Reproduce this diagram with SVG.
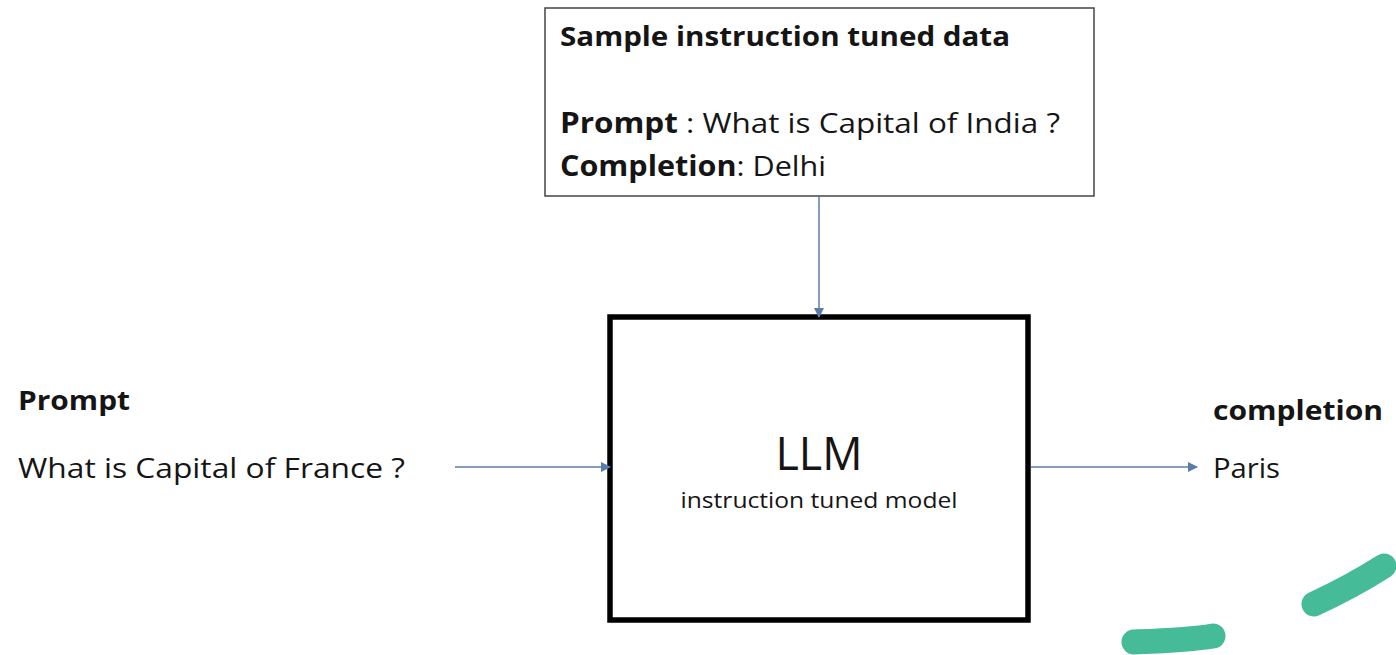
<svg xmlns="http://www.w3.org/2000/svg" width="1396" height="655" viewBox="0 0 1396 655">
  <style>
    .t { font-family: "Open Sans", "Noto Sans", "Liberation Sans", sans-serif; fill: #151515; }
    .b { font-weight: bold; }
    .conn { stroke: #5a7cab; stroke-width: 1.5; fill: none; }
    .swoosh { stroke: #45bb97; stroke-width: 25; stroke-linecap: round; fill: none; }
  </style>
  <defs>
    <marker id="arrow" viewBox="0 0 10 10" refX="9" refY="5" markerWidth="11" markerHeight="10" markerUnits="userSpaceOnUse" orient="auto">
      <path d="M0,0 L10,5 L0,10 z" fill="#5a7cab"/>
    </marker>
  </defs>
  <rect width="1396" height="655" fill="#ffffff"/>

  <!-- training sample box -->
  <g id="sample-data">
    <rect x="545" y="8" width="549" height="188" fill="#ffffff" stroke="#444444" stroke-width="1.5"/>
    <text class="t b" x="560" y="46" font-size="26" textLength="450" lengthAdjust="spacingAndGlyphs">Sample instruction tuned data</text>
    <text class="t" x="560" y="133" font-size="28" textLength="500" lengthAdjust="spacingAndGlyphs"><tspan class="b">Prompt</tspan> : What is Capital of India ?</text>
    <text class="t" x="560" y="176" font-size="28" textLength="266" lengthAdjust="spacingAndGlyphs"><tspan class="b">Completion</tspan>: Delhi</text>
  </g>

  <!-- model box -->
  <g id="llm">
    <rect x="610" y="317" width="418" height="303" fill="#ffffff" stroke="#000000" stroke-width="5.5"/>
    <text class="t" x="819" y="470" font-size="45" text-anchor="middle" textLength="87" lengthAdjust="spacingAndGlyphs">LLM</text>
    <text class="t" x="819" y="508" font-size="22" text-anchor="middle" textLength="277" lengthAdjust="spacingAndGlyphs">instruction tuned model</text>
  </g>

  <!-- input prompt -->
  <g id="input-prompt">
    <text class="t b" x="18" y="410" font-size="26" textLength="112" lengthAdjust="spacingAndGlyphs">Prompt</text>
    <text class="t" x="18" y="478" font-size="28" textLength="387" lengthAdjust="spacingAndGlyphs">What is Capital of France ?</text>
  </g>

  <!-- output completion -->
  <g id="output-completion">
    <text class="t b" x="1213" y="420" font-size="26" textLength="170" lengthAdjust="spacingAndGlyphs">completion</text>
    <text class="t" x="1213" y="478" font-size="28" textLength="67" lengthAdjust="spacingAndGlyphs">Paris</text>
  </g>

  <!-- connectors -->
  <g id="connectors">
    <line class="conn" x1="819" y1="196" x2="819" y2="317" marker-end="url(#arrow)"/>
    <line class="conn" x1="455" y1="467" x2="610" y2="467" marker-end="url(#arrow)"/>
    <line class="conn" x1="1031" y1="467" x2="1197" y2="467" marker-end="url(#arrow)"/>
  </g>

  <!-- decorative brush strokes -->
  <path class="swoosh" d="M1134,642 C1160,641 1190,640 1213,636"/>
  <path class="swoosh" d="M1314,604 C1340,592 1362,580 1384,566"/>
</svg>
